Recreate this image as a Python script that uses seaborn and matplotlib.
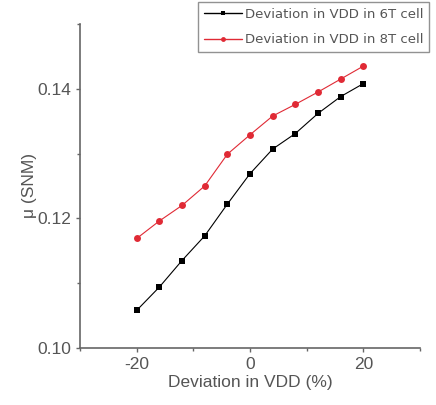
import matplotlib
matplotlib.use("Agg")
import matplotlib.pyplot as plt
import seaborn as sns
import pandas as pd
from matplotlib.ticker import MultipleLocator

x_dev = [-20, -16, -12, -8, -4, 0, 4, 8, 12, 16, 20]
snm_6t = [0.1058, 0.1094, 0.1135, 0.1173, 0.1222, 0.1269, 0.1307, 0.1331, 0.1362, 0.1388, 0.1408]
snm_8t = [0.1169, 0.1196, 0.1220, 0.1250, 0.1299, 0.1329, 0.1358, 0.1376, 0.1395, 0.1415, 0.1435]
labels = ["Deviation in VDD in 6T cell", "Deviation in VDD in 8T cell"]

df = pd.concat([
    pd.DataFrame({"x": x_dev, "y": snm_6t, "s": labels[0]}),
    pd.DataFrame({"x": x_dev, "y": snm_8t, "s": labels[1]}),
])

sns.set_style("white")
plt.rcParams["font.family"] = ["Liberation Sans", "DejaVu Sans"]
gray = "#555555"

fig = plt.figure(figsize=(4.36, 4.05), dpi=100)
ax = fig.add_axes([80/436, 1-348/405, 340/436, 324/405])

sns.lineplot(data=df, x="x", y="y", hue="s", style="s",
             palette={labels[0]: "black", labels[1]: "#e02a35"},
             markers={labels[0]: "s", labels[1]: "o"}, dashes=False,
             markersize=5, linewidth=0.8, markeredgewidth=0,
             ax=ax, legend=True)

ax.set_xlim(-30, 30)
ax.set_ylim(0.10, 0.15)
ax.xaxis.set_minor_locator(MultipleLocator(10))
ax.yaxis.set_minor_locator(MultipleLocator(0.01))
ax.set_xticks([-20, 0, 20])
ax.set_xticklabels(["-20", "0", "20"])
ax.set_yticks([0.10, 0.12, 0.14])
ax.set_yticklabels(["0.10", "0.12", "0.14"])

for s in ["top", "right"]:
    ax.spines[s].set_visible(False)
for s in ["left", "bottom"]:
    ax.spines[s].set_color("#666666")
    ax.spines[s].set_linewidth(1.2)

ax.tick_params(which="major", direction="out", length=3, width=1, colors="#666666",
               labelcolor=gray, labelsize=12.5, bottom=True, left=True)
ax.tick_params(which="minor", direction="out", length=2, width=1, colors="#666666",
               bottom=True, left=True)

ax.set_xlabel("Deviation in VDD (%)", color=gray, fontsize=12.5, labelpad=2)
ax.set_ylabel("μ (SNM)", color=gray, fontsize=12.5, labelpad=0)

leg = ax.legend(loc="upper left", bbox_to_anchor=(198/436, 1-2/405),
                bbox_transform=fig.transFigure, frameon=True, fancybox=False,
                prop={"family": "DejaVu Sans", "size": 9.5},
                handlelength=2.9, handletextpad=0.2,
                borderpad=0.45, labelspacing=0.95, borderaxespad=0)
leg.get_frame().set_edgecolor("#777777")
leg.get_frame().set_linewidth(1.0)
for t in leg.get_texts():
    t.set_color(gray)
for h in leg.legend_handles:
    h.set_markersize(3.5)
    h.set_linewidth(1.0)

fig.savefig("out.png", dpi=100)
